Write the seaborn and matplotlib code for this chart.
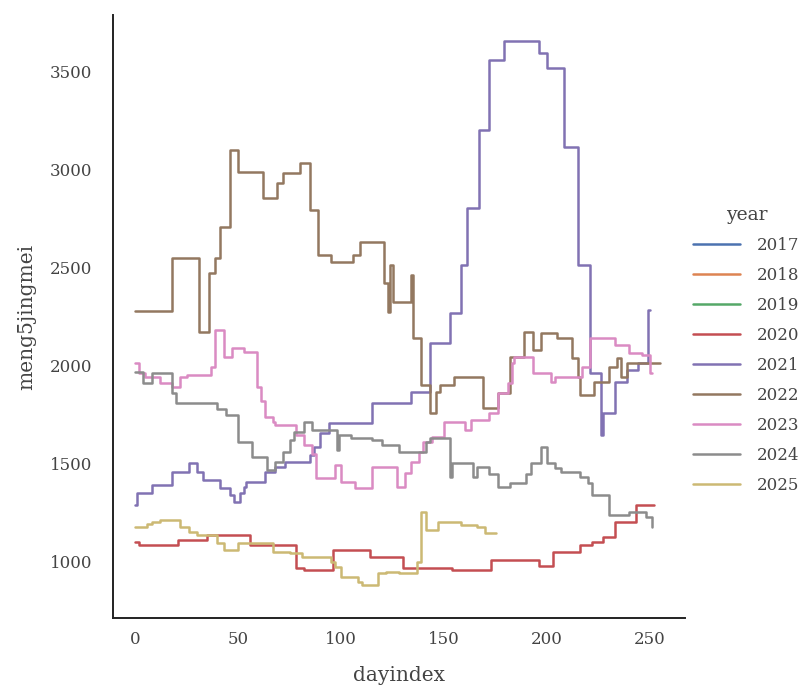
import pandas as pd
import matplotlib
matplotlib.use("Agg")
import matplotlib.pyplot as plt
import seaborn as sns

# step change points: (dayindex, meng5jingmei)
years = ["2017", "2018", "2019", "2020", "2021", "2022", "2023", "2024", "2025"]

day_2020 = [0, 2, 21, 35, 56, 78, 82, 96, 114, 130, 154, 173, 196, 203, 216, 222, 227, 233, 243, 252]
val_2020 = [1102, 1087, 1112, 1138, 1087, 969, 959, 1061, 1026, 969, 959, 1010, 980, 1053, 1087, 1104, 1129, 1206, 1291, 1291]

day_2021 = [0, 1, 8, 18, 26, 30, 33, 41, 46, 48, 51, 53, 54, 63, 68, 73, 85, 87, 90, 94, 115, 134, 143,
            153, 158, 161, 167, 172, 179, 196, 200, 208, 215, 221, 226, 227, 233, 239, 244, 249, 250]
val_2021 = [1291, 1350, 1393, 1461, 1503, 1461, 1418, 1376, 1341, 1308, 1350, 1384, 1410, 1461, 1486, 1512,
            1546, 1588, 1656, 1707, 1810, 1867, 2117, 2270, 2515, 2806, 3204, 3561, 3660, 3597, 3520, 3117,
            2515, 1964, 1648, 1760, 1918, 1980, 2015, 2286, 2286]

day_2022 = [0, 18, 31, 36, 39, 41, 46, 50, 62, 69, 72, 80, 85, 89, 95, 106, 109, 121, 123, 124, 125, 134,
            135, 139, 143, 146, 148, 155, 169, 176, 182, 189, 193, 197, 205, 212, 215, 216, 223, 230, 234,
            236, 239, 255]
val_2022 = [2280, 2551, 2173, 2474, 2551, 2709, 3102, 2990, 2857, 2933, 2985, 3036, 2796, 2566, 2530, 2566,
            2633, 2423, 2276, 2515, 2327, 2464, 2143, 1903, 1760, 1867, 1903, 1944, 1786, 1862, 2046, 2173,
            2082, 2168, 2143, 2041, 1944, 1852, 1918, 1995, 2041, 1944, 2015, 2015]

day_2023 = [0, 2, 5, 12, 18, 22, 25, 37, 39, 43, 47, 53, 59, 61, 63, 67, 68, 78, 82, 86, 88, 97, 100, 107,
            115, 127, 131, 134, 138, 140, 144, 150, 160, 163, 172, 176, 181, 183, 184, 193, 202, 204, 217,
            221, 233, 240, 246, 250, 251]
val_2023 = [2015, 1964, 1944, 1913, 1893, 1944, 1954, 1995, 2184, 2046, 2092, 2071, 1893, 1820, 1740, 1716,
            1699, 1650, 1595, 1550, 1428, 1495, 1410, 1376, 1486, 1384, 1452, 1512, 1560, 1612, 1638, 1714,
            1673, 1724, 1760, 1862, 1913, 2015, 2046, 1964, 1918, 1944, 1995, 2143, 2107, 2066, 2056, 1964,
            1964]

day_2024 = [0, 4, 8, 18, 20, 40, 44, 50, 57, 64, 68, 72, 75, 77, 82, 86, 98, 99, 105, 115, 120, 128, 141,
            143, 153, 154, 164, 166, 172, 176, 182, 190, 192, 197, 200, 204, 207, 216, 220, 222, 230, 240,
            248, 251]
val_2024 = [1969, 1913, 1964, 1862, 1811, 1780, 1750, 1612, 1536, 1469, 1512, 1560, 1620, 1663, 1714, 1673,
            1571, 1648, 1630, 1622, 1597, 1561, 1612, 1633, 1435, 1503, 1435, 1486, 1450, 1384, 1403, 1450,
            1503, 1587, 1503, 1480, 1461, 1435, 1403, 1342, 1240, 1257, 1230, 1180]

day_2025 = [0, 6, 8, 12, 22, 26, 30, 40, 43, 50, 60, 67, 75, 81, 95, 97, 100, 108, 110, 118, 122, 128, 137,
            139, 141, 147, 158, 166, 170, 175]
val_2025 = [1180, 1195, 1204, 1214, 1180, 1153, 1138, 1097, 1061, 1097, 1097, 1051, 1046, 1026, 1000, 975,
            923, 900, 883, 944, 949, 944, 1000, 1257, 1163, 1206, 1189, 1180, 1148, 1148]

series = {
    "2020": (day_2020, val_2020),
    "2021": (day_2021, val_2021),
    "2022": (day_2022, val_2022),
    "2023": (day_2023, val_2023),
    "2024": (day_2024, val_2024),
    "2025": (day_2025, val_2025),
}

rows = []
for yr, (d, v) in series.items():
    for a, b in zip(d, v):
        rows.append({"dayindex": a, "meng5jingmei": b, "year": yr})
df = pd.DataFrame(rows)

sns.set_theme(style="white", palette="deep")
plt.rcParams["font.family"] = ["DejaVu Serif"]
plt.rcParams["axes.edgecolor"] = "#222222"
plt.rcParams["axes.linewidth"] = 1.4

fig = plt.figure(figsize=(8.05, 6.87), dpi=100)
ax = fig.add_axes([0.1404, 0.1004, 0.7106, 0.8776])
sns.lineplot(data=df, x="dayindex", y="meng5jingmei", hue="year", hue_order=years,
             palette="deep", linewidth=1.8, drawstyle="steps-post", ax=ax)
sns.despine(ax=ax)

ax.set_xlim(-10.7, 267)
ax.set_ylim(714, 3790)
ax.set_xticks([0, 50, 100, 150, 200, 250])
ax.set_yticks([1000, 1500, 2000, 2500, 3000, 3500])
ax.tick_params(labelsize=12, colors="#444444", length=0)
ax.tick_params(axis="y", pad=15)
ax.tick_params(axis="x", pad=9)
ax.set_xlabel("dayindex", fontsize=14.5, color="#444444", labelpad=13)
ax.set_ylabel("meng5jingmei", fontsize=14.5, color="#444444", labelpad=10)

sns.move_legend(ax, "center left", bbox_to_anchor=(1.0, 0.444), frameon=False,
                fontsize=12, title_fontsize=13.5, labelspacing=0.78,
                handlelength=2.8, handletextpad=1.0, borderaxespad=0.1)
leg = ax.get_legend()
for t in leg.get_texts():
    t.set_color("#444444")
leg.get_title().set_color("#444444")

fig.savefig("out.png", dpi=100)
